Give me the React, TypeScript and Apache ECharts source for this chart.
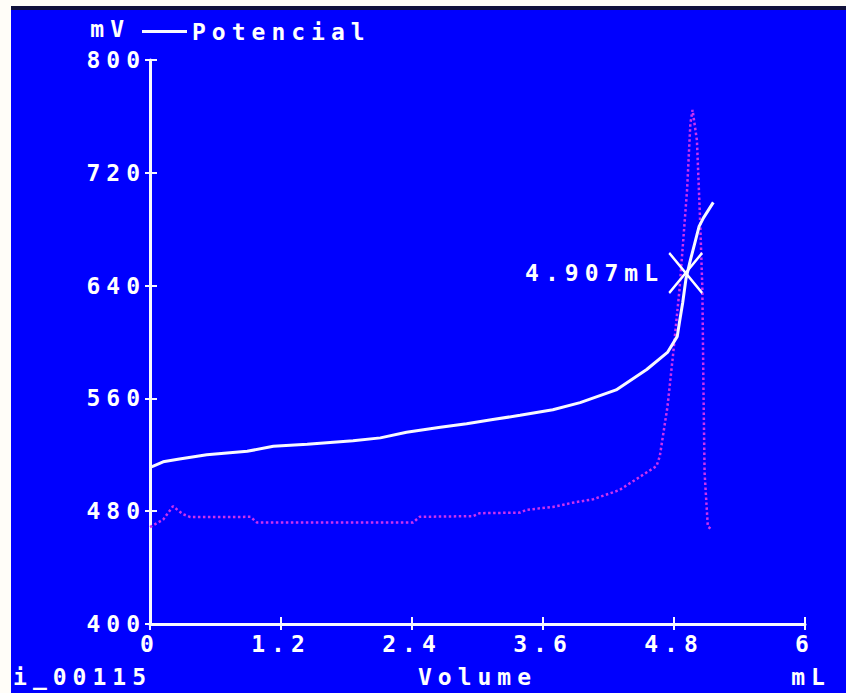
import React, { useEffect, useRef } from 'react';
import * as echarts from 'echarts';

// Potencial (mV) vs Volume (mL)
const volumePot = [0, 0.03, 0.12, 0.27, 0.52, 0.89, 1.13, 1.44, 1.86, 2.11, 2.35, 2.66, 2.9, 3.14, 3.39, 3.69, 3.94, 4.27, 4.55, 4.74, 4.83, 4.85, 4.88, 4.91, 4.95, 4.99, 5.03, 5.07, 5.16];
const potencial = [511, 512, 515, 517, 520, 522.5, 526, 527.5, 530, 532, 536, 539.5, 542, 545, 548, 552, 557, 566, 580.5, 592.6, 604, 614, 628, 645, 658, 670, 682, 688, 699];

// Dotted magenta curve (derivative-like trace)
const volumeDer = [0, 0.12, 0.21, 0.3, 0.37, 0.92, 0.98, 2.41, 2.47, 2.96, 3.02, 3.39, 3.45, 3.69, 3.87, 4.06, 4.3, 4.64, 4.67, 4.74, 4.79, 4.85, 4.92, 4.95, 4.97, 5.01, 5.04, 5.06, 5.07, 5.08, 5.11, 5.15];
const derivada = [468.7, 474, 483.5, 478, 475.8, 476, 472, 472, 476, 476.5, 478.6, 479, 481, 483, 486, 488.5, 495, 512, 519, 554, 590, 637, 708, 755, 764.6, 743, 684.6, 637, 566, 507.6, 469, 467];

// End point marker
const endpoint = [4.907, 649];

const yRange = { min: 400, max: 800, interval: 80 };
const xRange = { min: 0, max: 6, interval: 1.2 };

const axisNameY = 'mV';
const axisNameX = 'Volume';
const unitX = 'mL';
const sampleId = 'i_00115';

export default function App() {
  const ref = useRef<HTMLDivElement>(null);
  useEffect(() => {
    const chart = echarts.init(ref.current!, null, { renderer: 'svg' });
    const font = {
      fontFamily: "'DejaVu Sans Mono', monospace",
      fontWeight: 'bold' as const,
      fontSize: 23,
      color: '#ffffff',
    };
    const fontStr = "bold 23px 'DejaVu Sans Mono', monospace";
    const white = '#f8f8ff';
    const baseX = {
      type: 'value' as const,
      gridIndex: 0,
      position: 'bottom' as const,
      min: xRange.min,
      max: xRange.max,
      interval: xRange.interval,
      splitLine: { show: false },
    };
    const baseY = {
      type: 'value' as const,
      gridIndex: 0,
      position: 'left' as const,
      min: yRange.min,
      max: yRange.max,
      interval: yRange.interval,
      splitLine: { show: false },
    };
    chart.setOption({
      animation: false,
      backgroundColor: '#0000fe',
      grid: { left: 150, top: 60, width: 655, height: 565, containLabel: false },
      graphic: [
        { type: 'rect', shape: { x: 0, y: 0, width: 846, height: 6 }, style: { fill: '#fffdf8' } },
        { type: 'rect', shape: { x: 0, y: 0, width: 11, height: 693 }, style: { fill: '#fffdf8' } },
        { type: 'rect', shape: { x: 11, y: 6, width: 835, height: 4 }, style: { fill: '#10103a' } },
        {
          type: 'text',
          x: 811,
          y: 677,
          style: { text: unitX, fill: '#ffffff', font: fontStr, textAlign: 'center', textVerticalAlign: 'middle' },
        },
        {
          type: 'text',
          x: 152,
          y: 677,
          style: { text: sampleId, fill: '#ffffff', font: fontStr, textAlign: 'right', textVerticalAlign: 'middle' },
        },
      ],
      legend: {
        data: ['Potencial'],
        left: 142,
        top: 20,
        padding: 0,
        icon: 'rect',
        itemWidth: 45,
        itemHeight: 3,
        selectedMode: false,
        textStyle: { ...font },
      },
      xAxis: [
        {
          ...baseX,
          name: axisNameX,
          nameLocation: 'middle',
          nameGap: 41,
          nameTextStyle: { ...font },
          axisLine: { show: true, lineStyle: { color: white, width: 3 } },
          axisTick: { show: true, inside: false, length: 6, lineStyle: { color: white, width: 2 } },
          axisLabel: { ...font, margin: 8 },
        },
        {
          ...baseX,
          axisLine: { show: false },
          axisTick: { show: true, inside: true, length: 7, lineStyle: { color: white, width: 2 } },
          axisLabel: { show: false },
        },
      ],
      yAxis: [
        {
          ...baseY,
          name: axisNameY,
          nameLocation: 'end',
          nameGap: 31,
          nameTextStyle: { ...font, align: 'right', verticalAlign: 'middle', padding: [0, 20, 0, 0] },
          axisLine: { show: true, lineStyle: { color: white, width: 3 } },
          axisTick: { show: true, inside: false, length: 5, lineStyle: { color: white, width: 2 } },
          axisLabel: { ...font, margin: 4 },
        },
        {
          ...baseY,
          axisLine: { show: false },
          axisTick: { show: true, inside: true, length: 7, lineStyle: { color: white, width: 2 } },
          axisLabel: { show: false },
        },
      ],
      series: [
        {
          type: 'line',
          name: 'Derivada',
          xAxisIndex: 0,
          yAxisIndex: 0,
          data: volumeDer.map((v, i) => [v, derivada[i]]),
          showSymbol: false,
          color: '#cc33ee',
          lineStyle: { color: '#cc33ee', width: 2.5, type: 'dotted' },
          z: 2,
        },
        {
          type: 'line',
          name: 'Potencial',
          xAxisIndex: 0,
          yAxisIndex: 0,
          data: volumePot.map((v, i) => [v, potencial[i]]),
          showSymbol: false,
          color: white,
          itemStyle: { color: white },
          lineStyle: { color: white, width: 3 },
          z: 3,
        },
        {
          type: 'scatter',
          name: 'Ponto final',
          xAxisIndex: 0,
          yAxisIndex: 0,
          data: [endpoint],
          symbol: 'path://M0,0L30,36M30,0L0,36',
          symbolSize: [33, 40],
          itemStyle: { color: 'rgba(0,0,0,0)', borderColor: '#ffffff', borderWidth: 2.5, opacity: 1 },
          label: {
            show: true,
            position: 'left',
            distance: 4,
            opacity: 1,
            formatter: (p: any) => `${p.value[0]}${unitX}`,
            ...font,
          },
          z: 4,
        },
      ],
    });
    return () => chart.dispose();
  }, []);
  return (
    <div
      ref={ref}
      style={{ position: 'absolute', left: 0, top: 0, width: 846, height: 693, letterSpacing: '6px' }}
    />
  );
}
